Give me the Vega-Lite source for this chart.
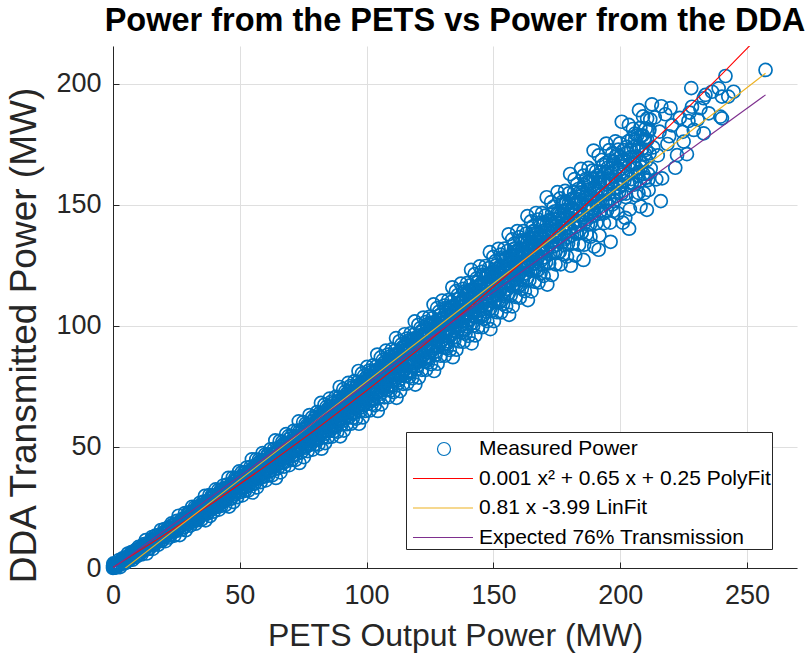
{
  "$schema": "https://vega.github.io/schema/vega-lite/v6.json",
  "width": 684,
  "height": 522,
  "autosize": {"type": "none"},
  "padding": {"left": 113, "top": 46, "right": 10, "bottom": 91},
  "background": "white",
  "title": {
    "text": "Power from the PETS vs Power from the DDA",
    "font": "Liberation Sans",
    "fontSize": 32.5,
    "fontWeight": "bold",
    "color": "#000000",
    "anchor": "middle",
    "offset": 9
  },
  "layer": [
    {
      "data": {
        "values": [
          {"pets":0.0,"dda":0.0},{"pets":0.3,"dda":0.5},{"pets":0.1,"dda":1.2},{"pets":0.6,"dda":0.2},{"pets":0.0,"dda":0.8},{"pets":0.4,"dda":1.6},{"pets":0.8,"dda":0.9},
          {"pets":0.2,"dda":0.3},{"pets":0.5,"dda":0.7},{"pets":0.9,"dda":0.4},{"pets":0.2,"dda":1.9},{"pets":1.2,"dda":1.6},{"pets":0.7,"dda":1.3},{"pets":1.1,"dda":0.5},{"pets":1.5,"dda":1.1},
          {"pets":1.0,"dda":1.0},{"pets":1.4,"dda":0.2},{"pets":1.7,"dda":2.0},{"pets":2.1,"dda":1.3},{"pets":2.4,"dda":3.3},{"pets":2.8,"dda":0.4},{"pets":3.1,"dda":2.8},{"pets":3.5,"dda":1.7},{"pets":3.8,"dda":4.0},{"pets":4.2,"dda":2.9},{"pets":4.5,"dda":4.2},{"pets":4.9,"dda":2.0},{"pets":5.2,"dda":3.9},{"pets":5.6,"dda":3.3},{"pets":5.9,"dda":6.0},{"pets":6.3,"dda":3.2},{"pets":6.6,"dda":5.3},{"pets":7.0,"dda":4.4},{"pets":7.3,"dda":6.6},{"pets":7.7,"dda":3.4},{"pets":8.0,"dda":5.9},{"pets":8.4,"dda":5.7},{"pets":8.7,"dda":7.3},{"pets":9.1,"dda":4.6},{"pets":9.4,"dda":7.1},{"pets":9.8,"dda":5.5},
          {"pets":10.1,"dda":8.7},{"pets":10.5,"dda":6.9},{"pets":10.8,"dda":8.5},{"pets":11.2,"dda":5.6},{"pets":11.5,"dda":8.0},{"pets":11.9,"dda":7.1},{"pets":12.2,"dda":9.9},{"pets":12.6,"dda":7.9},{"pets":12.9,"dda":11.5},{"pets":13.3,"dda":6.0},{"pets":13.6,"dda":9.8},{"pets":14.0,"dda":9.6},{"pets":14.3,"dda":8.0},{"pets":14.7,"dda":11.1},{"pets":15.0,"dda":9.6},{"pets":15.4,"dda":12.8},{"pets":15.7,"dda":7.9},{"pets":16.1,"dda":11.7},{"pets":16.4,"dda":9.8},{"pets":16.8,"dda":13.4},{"pets":17.1,"dda":11.3},{"pets":17.5,"dda":13.4},{"pets":17.8,"dda":9.6},{"pets":18.2,"dda":12.7},{"pets":18.5,"dda":11.5},{"pets":18.9,"dda":15.7},{"pets":19.2,"dda":11.2},{"pets":19.6,"dda":14.4},
          {"pets":20.0,"dda":12.8},{"pets":20.3,"dda":16.1},{"pets":20.7,"dda":11.1},{"pets":21.0,"dda":14.8},{"pets":21.4,"dda":14.4},{"pets":21.7,"dda":16.7},{"pets":22.1,"dda":12.6},{"pets":22.4,"dda":16.3},{"pets":22.8,"dda":13.7},{"pets":23.1,"dda":18.4},{"pets":23.5,"dda":15.5},{"pets":23.8,"dda":17.8},{"pets":24.2,"dda":13.4},{"pets":24.5,"dda":16.9},{"pets":24.9,"dda":15.5},{"pets":25.2,"dda":19.5},{"pets":25.6,"dda":16.4},{"pets":25.9,"dda":21.6},{"pets":26.3,"dda":13.6},{"pets":26.6,"dda":18.9},{"pets":27.0,"dda":18.5},{"pets":27.3,"dda":16.1},{"pets":27.7,"dda":20.5},{"pets":28.0,"dda":18.3},{"pets":28.4,"dda":22.7},{"pets":28.7,"dda":15.6},{"pets":29.1,"dda":20.9},{"pets":29.4,"dda":18.2},{"pets":29.8,"dda":23.0},
          {"pets":30.0,"dda":20.1},{"pets":30.25,"dda":22.8},{"pets":30.5,"dda":17.5},{"pets":30.75,"dda":21.5},{"pets":31.0,"dda":19.7},{"pets":31.25,"dda":25.3},{"pets":31.5,"dda":19.1},{"pets":31.75,"dda":23.2},{"pets":32.0,"dda":20.8},{"pets":32.25,"dda":25.1},{"pets":32.5,"dda":18.3},{"pets":32.75,"dda":23.2},{"pets":33.0,"dda":22.4},{"pets":33.25,"dda":25.3},{"pets":33.5,"dda":19.8},{"pets":33.75,"dda":24.4},{"pets":34.0,"dda":21.0},{"pets":34.25,"dda":26.9},{"pets":34.5,"dda":23.0},{"pets":34.75,"dda":25.8},{"pets":35.0,"dda":20.1},{"pets":35.25,"dda":24.5},{"pets":35.5,"dda":22.5},{"pets":35.75,"dda":27.4},{"pets":36.0,"dda":23.4},{"pets":36.25,"dda":29.8},{"pets":36.5,"dda":19.7},{"pets":36.75,"dda":26.2},{"pets":37.0,"dda":25.5},{"pets":37.25,"dda":22.5},{"pets":37.5,"dda":27.7},{"pets":37.75,"dda":25.0},{"pets":38.0,"dda":30.1},{"pets":38.25,"dda":21.5},{"pets":38.5,"dda":27.7},{"pets":38.75,"dda":24.3},{"pets":39.0,"dda":30.0},{"pets":39.25,"dda":26.5},{"pets":39.5,"dda":29.7},{"pets":39.75,"dda":23.3},
          {"pets":40.0,"dda":28.1},{"pets":40.25,"dda":25.9},{"pets":40.5,"dda":32.5},{"pets":40.75,"dda":25.1},{"pets":41.0,"dda":30.0},{"pets":41.25,"dda":27.2},{"pets":41.5,"dda":32.2},{"pets":41.75,"dda":24.1},{"pets":42.0,"dda":29.8},{"pets":42.25,"dda":28.9},{"pets":42.5,"dda":32.3},{"pets":42.75,"dda":25.7},{"pets":43.0,"dda":31.2},{"pets":43.25,"dda":27.1},{"pets":43.5,"dda":34.1},{"pets":43.75,"dda":29.5},{"pets":44.0,"dda":32.7},{"pets":44.25,"dda":26.0},{"pets":44.5,"dda":31.1},{"pets":44.75,"dda":28.7},{"pets":45.0,"dda":34.5},{"pets":45.25,"dda":29.7},{"pets":45.5,"dda":37.2},{"pets":45.75,"dda":25.4},{"pets":46.0,"dda":33.0},{"pets":46.25,"dda":32.2},{"pets":46.5,"dda":28.6},{"pets":46.75,"dda":34.6},{"pets":47.0,"dda":31.4},{"pets":47.25,"dda":37.4},{"pets":47.5,"dda":27.3},{"pets":47.75,"dda":34.6},{"pets":48.0,"dda":30.6},{"pets":48.25,"dda":37.2},{"pets":48.5,"dda":33.1},{"pets":48.75,"dda":36.8},{"pets":49.0,"dda":29.3},{"pets":49.25,"dda":34.9},{"pets":49.5,"dda":32.3},{"pets":49.75,"dda":39.9},
          {"pets":50.0,"dda":31.3},{"pets":50.25,"dda":37.0},{"pets":50.5,"dda":33.6},{"pets":50.75,"dda":39.5},{"pets":51.0,"dda":30.0},{"pets":51.25,"dda":36.7},{"pets":51.5,"dda":35.5},{"pets":51.75,"dda":39.5},{"pets":52.0,"dda":31.9},{"pets":52.25,"dda":38.2},{"pets":52.5,"dda":33.4},{"pets":52.75,"dda":41.5},{"pets":53.0,"dda":36.1},{"pets":53.25,"dda":39.8},{"pets":53.5,"dda":32.1},{"pets":53.75,"dda":38.0},{"pets":54.0,"dda":35.1},{"pets":54.25,"dda":41.8},{"pets":54.5,"dda":36.3},{"pets":54.75,"dda":44.9},{"pets":55.0,"dda":31.2},{"pets":55.25,"dda":39.9},{"pets":55.5,"dda":39.0},{"pets":55.75,"dda":34.8},{"pets":56.0,"dda":41.7},{"pets":56.25,"dda":38.1},{"pets":56.5,"dda":44.9},{"pets":56.75,"dda":33.3},{"pets":57.0,"dda":41.6},{"pets":57.25,"dda":37.0},{"pets":57.5,"dda":44.6},{"pets":57.75,"dda":39.8},{"pets":58.0,"dda":44.0},{"pets":58.25,"dda":35.5},{"pets":58.5,"dda":41.8},{"pets":58.75,"dda":38.8},{"pets":59.0,"dda":47.5},{"pets":59.25,"dda":37.7},{"pets":59.5,"dda":44.1},{"pets":59.75,"dda":40.3},
          {"pets":60.0,"dda":46.9},{"pets":60.25,"dda":36.2},{"pets":60.5,"dda":43.7},{"pets":60.75,"dda":42.4},{"pets":61.0,"dda":46.8},{"pets":61.25,"dda":38.2},{"pets":61.5,"dda":45.3},{"pets":61.75,"dda":39.9},{"pets":62.0,"dda":49.0},{"pets":62.25,"dda":42.9},{"pets":62.5,"dda":47.1},{"pets":62.75,"dda":38.3},{"pets":63.0,"dda":44.9},{"pets":63.25,"dda":41.7},{"pets":63.5,"dda":49.2},{"pets":63.75,"dda":43.0},{"pets":64.0,"dda":52.7},{"pets":64.25,"dda":37.2},{"pets":64.5,"dda":47.0},{"pets":64.75,"dda":46.0},{"pets":65.0,"dda":41.2},{"pets":65.25,"dda":49.0},{"pets":65.5,"dda":44.9},{"pets":65.75,"dda":52.5},{"pets":66.0,"dda":39.5},{"pets":66.25,"dda":48.8},{"pets":66.5,"dda":43.6},{"pets":66.75,"dda":52.1},{"pets":67.0,"dda":46.7},{"pets":67.25,"dda":51.4},{"pets":67.5,"dda":41.9},{"pets":67.75,"dda":49.0},{"pets":68.0,"dda":45.6},{"pets":68.25,"dda":55.3},{"pets":68.5,"dda":44.2},{"pets":68.75,"dda":51.4},{"pets":69.0,"dda":47.1},{"pets":69.25,"dda":54.5},{"pets":69.5,"dda":42.5},{"pets":69.75,"dda":50.9},
          {"pets":70.0,"dda":49.4},{"pets":70.25,"dda":54.3},{"pets":70.5,"dda":44.7},{"pets":70.75,"dda":52.6},{"pets":71.0,"dda":46.5},{"pets":71.25,"dda":56.7},{"pets":71.5,"dda":49.8},{"pets":71.75,"dda":54.5},{"pets":72.0,"dda":44.7},{"pets":72.25,"dda":52.1},{"pets":72.5,"dda":48.5},{"pets":72.75,"dda":56.8},{"pets":73.0,"dda":49.8},{"pets":73.25,"dda":60.6},{"pets":73.5,"dda":43.4},{"pets":73.75,"dda":54.3},{"pets":74.0,"dda":53.1},{"pets":74.25,"dda":47.8},{"pets":74.5,"dda":56.4},{"pets":74.75,"dda":51.8},{"pets":75.0,"dda":60.3},{"pets":75.25,"dda":45.8},{"pets":75.5,"dda":56.1},{"pets":75.75,"dda":50.4},{"pets":76.0,"dda":59.7},{"pets":76.25,"dda":53.7},{"pets":76.5,"dda":59.0},{"pets":76.75,"dda":48.3},{"pets":77.0,"dda":56.2},{"pets":77.25,"dda":52.4},{"pets":77.5,"dda":63.2},{"pets":77.75,"dda":50.9},{"pets":78.0,"dda":58.8},{"pets":78.25,"dda":54.1},{"pets":78.5,"dda":62.2},{"pets":78.75,"dda":48.9},{"pets":79.0,"dda":58.2},{"pets":79.25,"dda":56.5},{"pets":79.5,"dda":61.9},{"pets":79.75,"dda":51.2},
          {"pets":80.0,"dda":60.0},{"pets":80.2,"dda":53.2},{"pets":80.4,"dda":64.4},{"pets":80.6,"dda":56.7},{"pets":80.8,"dda":61.9},{"pets":81.0,"dda":51.0},{"pets":81.2,"dda":59.0},{"pets":81.4,"dda":55.1},{"pets":81.6,"dda":64.1},{"pets":81.8,"dda":56.4},{"pets":82.0,"dda":68.2},{"pets":82.2,"dda":49.3},{"pets":82.4,"dda":61.2},{"pets":82.6,"dda":59.8},{"pets":82.8,"dda":54.0},{"pets":83.0,"dda":63.4},{"pets":83.2,"dda":58.2},{"pets":83.4,"dda":67.5},{"pets":83.6,"dda":51.6},{"pets":83.8,"dda":62.7},{"pets":84.0,"dda":56.5},{"pets":84.2,"dda":66.6},{"pets":84.4,"dda":60.1},{"pets":84.6,"dda":65.7},{"pets":84.8,"dda":54.1},{"pets":85.0,"dda":62.5},{"pets":85.2,"dda":58.4},{"pets":85.4,"dda":70.0},{"pets":85.6,"dda":56.7},{"pets":85.8,"dda":65.2},{"pets":86.0,"dda":60.0},{"pets":86.2,"dda":68.8},{"pets":86.4,"dda":54.3},{"pets":86.6,"dda":64.3},{"pets":86.8,"dda":62.4},{"pets":87.0,"dda":68.2},{"pets":87.2,"dda":56.6},{"pets":87.4,"dda":66.1},{"pets":87.6,"dda":58.7},{"pets":87.8,"dda":70.7},{"pets":88.0,"dda":62.5},{"pets":88.2,"dda":68.0},{"pets":88.4,"dda":56.3},{"pets":88.6,"dda":64.9},{"pets":88.8,"dda":60.6},{"pets":89.0,"dda":70.4},{"pets":89.2,"dda":62.1},{"pets":89.4,"dda":74.8},{"pets":89.6,"dda":54.4},{"pets":89.8,"dda":67.2},
          {"pets":90.0,"dda":65.7},{"pets":90.2,"dda":59.4},{"pets":90.4,"dda":69.5},{"pets":90.6,"dda":64.0},{"pets":90.8,"dda":73.9},{"pets":91.0,"dda":56.8},{"pets":91.2,"dda":68.8},{"pets":91.4,"dda":62.1},{"pets":91.6,"dda":72.9},{"pets":91.8,"dda":65.9},{"pets":92.0,"dda":71.9},{"pets":92.2,"dda":59.4},{"pets":92.4,"dda":68.5},{"pets":92.6,"dda":64.1},{"pets":92.8,"dda":76.5},{"pets":93.0,"dda":62.2},{"pets":93.2,"dda":71.4},{"pets":93.4,"dda":65.8},{"pets":93.6,"dda":75.2},{"pets":93.8,"dda":59.6},{"pets":94.0,"dda":70.3},{"pets":94.2,"dda":68.3},{"pets":94.4,"dda":74.6},{"pets":94.6,"dda":62.1},{"pets":94.8,"dda":72.2},{"pets":95.0,"dda":64.3},{"pets":95.2,"dda":77.2},{"pets":95.4,"dda":68.4},{"pets":95.6,"dda":74.3},{"pets":95.8,"dda":61.7},{"pets":96.0,"dda":71.0},{"pets":96.2,"dda":66.4},{"pets":96.4,"dda":76.8},{"pets":96.6,"dda":67.9},{"pets":96.8,"dda":81.4},{"pets":97.0,"dda":59.6},{"pets":97.2,"dda":73.3},{"pets":97.4,"dda":71.7},{"pets":97.6,"dda":65.0},{"pets":97.8,"dda":75.7},{"pets":98.0,"dda":69.8},{"pets":98.2,"dda":80.4},{"pets":98.4,"dda":62.2},{"pets":98.6,"dda":75.0},{"pets":98.8,"dda":67.8},{"pets":99.0,"dda":79.4},{"pets":99.2,"dda":71.8},{"pets":99.4,"dda":78.2},{"pets":99.6,"dda":64.9},{"pets":99.8,"dda":74.6},
          {"pets":100.0,"dda":69.8},{"pets":100.2,"dda":83.1},{"pets":100.4,"dda":67.8},{"pets":100.6,"dda":77.6},{"pets":100.8,"dda":71.6},{"pets":101.0,"dda":81.6},{"pets":101.2,"dda":65.1},{"pets":101.4,"dda":76.5},{"pets":101.6,"dda":74.3},{"pets":101.8,"dda":81.0},{"pets":102.0,"dda":67.7},{"pets":102.2,"dda":78.4},{"pets":102.4,"dda":70.0},{"pets":102.6,"dda":83.7},{"pets":102.8,"dda":74.3},{"pets":103.0,"dda":80.6},{"pets":103.2,"dda":67.2},{"pets":103.4,"dda":77.1},{"pets":103.6,"dda":72.1},{"pets":103.8,"dda":83.3},{"pets":104.0,"dda":73.8},{"pets":104.2,"dda":88.2},{"pets":104.4,"dda":64.9},{"pets":104.6,"dda":79.5},{"pets":104.8,"dda":77.8},{"pets":105.0,"dda":70.6},{"pets":105.2,"dda":82.1},{"pets":105.4,"dda":75.8},{"pets":105.6,"dda":87.0},{"pets":105.8,"dda":67.6},{"pets":106.0,"dda":81.2},{"pets":106.2,"dda":73.5},{"pets":106.4,"dda":85.9},{"pets":106.6,"dda":77.8},{"pets":106.8,"dda":84.7},{"pets":107.0,"dda":70.5},{"pets":107.2,"dda":80.8},{"pets":107.4,"dda":75.7},{"pets":107.6,"dda":89.8},{"pets":107.8,"dda":73.5},{"pets":108.0,"dda":83.9},{"pets":108.2,"dda":77.6},{"pets":108.4,"dda":88.2},{"pets":108.6,"dda":70.6},{"pets":108.8,"dda":82.7},{"pets":109.0,"dda":80.3},{"pets":109.2,"dda":87.4},{"pets":109.4,"dda":73.3},{"pets":109.6,"dda":84.7},{"pets":109.8,"dda":75.8},
          {"pets":110.0,"dda":90.3},{"pets":110.2,"dda":80.3},{"pets":110.4,"dda":87.0},{"pets":110.6,"dda":72.7},{"pets":110.8,"dda":83.2},{"pets":111.0,"dda":78.0},{"pets":111.2,"dda":89.8},{"pets":111.4,"dda":79.7},{"pets":111.6,"dda":95.0},{"pets":111.8,"dda":70.3},{"pets":112.0,"dda":85.7},{"pets":112.2,"dda":83.9},{"pets":112.4,"dda":76.3},{"pets":112.6,"dda":88.5},{"pets":112.8,"dda":81.8},{"pets":113.0,"dda":93.7},{"pets":113.2,"dda":73.1},{"pets":113.4,"dda":87.5},{"pets":113.6,"dda":79.4},{"pets":113.8,"dda":92.4},{"pets":114.0,"dda":83.9},{"pets":114.2,"dda":91.2},{"pets":114.4,"dda":76.1},{"pets":114.6,"dda":87.0},{"pets":114.8,"dda":81.6},{"pets":115.0,"dda":96.6},{"pets":115.2,"dda":79.3},{"pets":115.4,"dda":90.3},{"pets":115.6,"dda":83.6},{"pets":115.8,"dda":94.8},{"pets":116.0,"dda":76.2},{"pets":116.2,"dda":89.0},{"pets":116.4,"dda":86.5},{"pets":116.6,"dda":94.0},{"pets":116.8,"dda":79.0},{"pets":117.0,"dda":91.1},{"pets":117.2,"dda":81.6},{"pets":117.4,"dda":97.0},{"pets":117.6,"dda":86.4},{"pets":117.8,"dda":93.5},{"pets":118.0,"dda":78.4},{"pets":118.2,"dda":89.5},{"pets":118.4,"dda":83.9},{"pets":118.6,"dda":96.4},{"pets":118.8,"dda":85.7},{"pets":119.0,"dda":101.9},{"pets":119.2,"dda":75.8},{"pets":119.4,"dda":92.1},{"pets":119.6,"dda":90.2},{"pets":119.8,"dda":82.1},
          {"pets":120.0,"dda":94.9},{"pets":120.2,"dda":87.9},{"pets":120.4,"dda":100.5},{"pets":120.6,"dda":78.7},{"pets":120.8,"dda":93.9},{"pets":121.0,"dda":85.3},{"pets":121.2,"dda":99.1},{"pets":121.4,"dda":90.1},{"pets":121.6,"dda":97.8},{"pets":121.8,"dda":81.9},{"pets":122.0,"dda":93.4},{"pets":122.2,"dda":87.7},{"pets":122.4,"dda":103.5},{"pets":122.6,"dda":85.3},{"pets":122.8,"dda":96.8},{"pets":123.0,"dda":89.7},{"pets":123.2,"dda":101.6},{"pets":123.4,"dda":81.9},{"pets":123.6,"dda":95.4},{"pets":123.8,"dda":92.8},{"pets":124.0,"dda":100.7},{"pets":124.2,"dda":84.9},{"pets":124.4,"dda":97.6},{"pets":124.6,"dda":87.6},{"pets":124.8,"dda":103.8},{"pets":125.0,"dda":92.7},{"pets":125.2,"dda":100.1},{"pets":125.4,"dda":84.2},{"pets":125.6,"dda":95.9},{"pets":125.8,"dda":90.0},{"pets":126.0,"dda":103.2},{"pets":126.2,"dda":91.9},{"pets":126.4,"dda":108.9},{"pets":126.6,"dda":81.4},{"pets":126.8,"dda":98.6},{"pets":127.0,"dda":96.6},{"pets":127.2,"dda":88.1},{"pets":127.4,"dda":101.6},{"pets":127.6,"dda":94.1},{"pets":127.8,"dda":107.4},{"pets":128.0,"dda":84.4},{"pets":128.2,"dda":100.5},{"pets":128.4,"dda":91.4},{"pets":128.6,"dda":105.9},{"pets":128.8,"dda":96.4},{"pets":129.0,"dda":104.5},{"pets":129.2,"dda":87.7},{"pets":129.4,"dda":99.8},{"pets":129.6,"dda":93.8},{"pets":129.8,"dda":110.5},
          {"pets":130.0,"dda":91.2},{"pets":130.2,"dda":103.4},{"pets":130.4,"dda":95.9},{"pets":130.6,"dda":108.4},{"pets":130.8,"dda":87.7},{"pets":131.0,"dda":101.9},{"pets":131.2,"dda":99.1},{"pets":131.4,"dda":107.5},{"pets":131.6,"dda":90.8},{"pets":131.8,"dda":104.2},{"pets":132.0,"dda":93.7},{"pets":132.2,"dda":110.7},{"pets":132.4,"dda":99.0},{"pets":132.6,"dda":106.8},{"pets":132.8,"dda":90.1},{"pets":133.0,"dda":102.3},{"pets":133.2,"dda":96.2},{"pets":133.4,"dda":110.0},{"pets":133.6,"dda":98.1},{"pets":133.8,"dda":116.0},{"pets":134.0,"dda":87.1},{"pets":134.2,"dda":105.1},{"pets":134.4,"dda":103.0},{"pets":134.6,"dda":94.1},{"pets":134.8,"dda":108.3},{"pets":135.0,"dda":100.4},{"pets":135.2,"dda":114.4},{"pets":135.4,"dda":90.2},{"pets":135.6,"dda":107.1},{"pets":135.8,"dda":97.5},{"pets":136.0,"dda":112.8},{"pets":136.2,"dda":102.8},{"pets":136.4,"dda":111.2},{"pets":136.6,"dda":93.6},{"pets":136.8,"dda":106.4},{"pets":137.0,"dda":100.0},{"pets":137.2,"dda":117.5},{"pets":137.4,"dda":97.3},{"pets":137.6,"dda":110.1},{"pets":137.8,"dda":102.2},{"pets":138.0,"dda":115.3},{"pets":138.2,"dda":93.5},{"pets":138.4,"dda":108.5},{"pets":138.6,"dda":105.6},{"pets":138.8,"dda":114.3},{"pets":139.0,"dda":96.8},{"pets":139.2,"dda":110.9},{"pets":139.4,"dda":99.8},{"pets":139.6,"dda":117.7},{"pets":139.8,"dda":105.3},
          {"pets":140.0,"dda":113.6},{"pets":140.2,"dda":95.9},{"pets":140.4,"dda":108.8},{"pets":140.6,"dda":102.4},{"pets":140.8,"dda":116.8},{"pets":141.0,"dda":104.4},{"pets":141.2,"dda":123.2},{"pets":141.4,"dda":92.8},{"pets":141.6,"dda":111.8},{"pets":141.8,"dda":109.5},{"pets":142.0,"dda":100.1},{"pets":142.2,"dda":115.0},{"pets":142.4,"dda":106.8},{"pets":142.6,"dda":121.4},{"pets":142.8,"dda":96.1},{"pets":143.0,"dda":113.8},{"pets":143.2,"dda":103.7},{"pets":143.4,"dda":119.7},{"pets":143.6,"dda":109.3},{"pets":143.8,"dda":118.1},{"pets":144.0,"dda":99.6},{"pets":144.2,"dda":113.0},{"pets":144.4,"dda":106.3},{"pets":144.6,"dda":124.6},{"pets":144.8,"dda":103.5},{"pets":145.0,"dda":116.9},{"pets":145.2,"dda":108.6},{"pets":145.4,"dda":122.4},{"pets":145.6,"dda":99.5},{"pets":145.8,"dda":115.1},{"pets":146.0,"dda":112.1},{"pets":146.2,"dda":121.2},{"pets":146.4,"dda":102.9},{"pets":146.6,"dda":117.6},{"pets":146.8,"dda":106.0},{"pets":147.0,"dda":124.8},{"pets":147.2,"dda":111.8},{"pets":147.4,"dda":120.4},{"pets":147.6,"dda":102.0},{"pets":147.8,"dda":115.5},{"pets":148.0,"dda":108.7},{"pets":148.2,"dda":123.9},{"pets":148.4,"dda":110.8},{"pets":148.6,"dda":130.5},{"pets":148.8,"dda":98.7},{"pets":149.0,"dda":118.5},{"pets":149.2,"dda":116.1},{"pets":149.4,"dda":106.3},{"pets":149.6,"dda":121.9},{"pets":149.8,"dda":113.2},
          {"pets":150.0,"dda":128.6},{"pets":150.2,"dda":102.0},{"pets":150.4,"dda":120.5},{"pets":150.6,"dda":110.0},{"pets":150.8,"dda":126.8},{"pets":151.0,"dda":115.8},{"pets":151.2,"dda":125.1},{"pets":151.4,"dda":105.7},{"pets":151.6,"dda":119.7},{"pets":151.8,"dda":112.7},{"pets":152.0,"dda":131.9},{"pets":152.2,"dda":109.7},{"pets":152.4,"dda":123.8},{"pets":152.6,"dda":115.1},{"pets":152.8,"dda":129.5},{"pets":153.0,"dda":105.6},{"pets":153.2,"dda":121.9},{"pets":153.4,"dda":118.7},{"pets":153.6,"dda":128.3},{"pets":153.8,"dda":109.1},{"pets":154.0,"dda":124.5},{"pets":154.2,"dda":112.4},{"pets":154.4,"dda":132.0},{"pets":154.6,"dda":118.4},{"pets":154.8,"dda":127.4},{"pets":155.0,"dda":108.1},{"pets":155.2,"dda":122.2},{"pets":155.4,"dda":115.1},{"pets":155.6,"dda":131.0},{"pets":155.8,"dda":117.3},{"pets":156.0,"dda":137.9},{"pets":156.2,"dda":104.6},{"pets":156.4,"dda":125.4},{"pets":156.6,"dda":122.9},{"pets":156.8,"dda":112.6},{"pets":157.0,"dda":128.9},{"pets":157.2,"dda":119.8},{"pets":157.4,"dda":135.8},{"pets":157.6,"dda":108.1},{"pets":157.8,"dda":127.4},{"pets":158.0,"dda":116.5},{"pets":158.2,"dda":134.0},{"pets":158.4,"dda":122.5},{"pets":158.6,"dda":132.1},{"pets":158.8,"dda":112.0},{"pets":159.0,"dda":126.5},{"pets":159.2,"dda":119.3},{"pets":159.4,"dda":139.2},{"pets":159.6,"dda":116.1},{"pets":159.8,"dda":130.7},
          {"pets":160.0,"dda":121.7},{"pets":160.2,"dda":136.7},{"pets":160.4,"dda":111.7},{"pets":160.6,"dda":128.8},{"pets":160.8,"dda":125.5},{"pets":161.0,"dda":135.4},{"pets":161.2,"dda":115.4},{"pets":161.4,"dda":131.5},{"pets":161.6,"dda":118.8},{"pets":161.8,"dda":139.2},{"pets":162.0,"dda":125.1},{"pets":162.2,"dda":134.5},{"pets":162.4,"dda":114.4},{"pets":162.6,"dda":129.1},{"pets":162.8,"dda":121.7},{"pets":163.0,"dda":138.2},{"pets":163.2,"dda":124.0},{"pets":163.4,"dda":145.4},{"pets":163.6,"dda":110.7},{"pets":163.8,"dda":132.3},{"pets":164.0,"dda":129.7},{"pets":164.2,"dda":119.0},{"pets":164.4,"dda":136.0},{"pets":164.6,"dda":126.5},{"pets":164.8,"dda":143.2},{"pets":165.0,"dda":114.3},{"pets":165.2,"dda":134.5},{"pets":165.4,"dda":123.0},{"pets":165.6,"dda":141.2},{"pets":165.8,"dda":129.3},{"pets":166.0,"dda":139.3},{"pets":166.2,"dda":118.3},{"pets":166.4,"dda":133.5},{"pets":166.6,"dda":125.9},{"pets":166.8,"dda":146.7},{"pets":167.0,"dda":122.6},{"pets":167.2,"dda":137.9},{"pets":167.4,"dda":128.4},{"pets":167.6,"dda":144.0},{"pets":167.8,"dda":118.0},{"pets":168.0,"dda":135.8},{"pets":168.2,"dda":132.3},{"pets":168.4,"dda":142.7},{"pets":168.6,"dda":121.9},{"pets":168.8,"dda":138.6},{"pets":169.0,"dda":125.4},{"pets":169.2,"dda":146.6},{"pets":169.4,"dda":131.9},{"pets":169.6,"dda":141.7},{"pets":169.8,"dda":120.7},
          {"pets":170.0,"dda":136.0},{"pets":170.25,"dda":128.4},{"pets":170.5,"dda":145.6},{"pets":170.75,"dda":130.8},{"pets":171.0,"dda":153.2},{"pets":171.25,"dda":117.1},{"pets":171.5,"dda":139.6},{"pets":171.75,"dda":137.0},{"pets":172.0,"dda":125.9},{"pets":172.25,"dda":143.6},{"pets":172.5,"dda":133.8},{"pets":172.75,"dda":151.2},{"pets":173.0,"dda":121.1},{"pets":173.25,"dda":142.2},{"pets":173.5,"dda":130.3},{"pets":173.75,"dda":149.3},{"pets":174.0,"dda":136.9},{"pets":174.25,"dda":147.4},{"pets":174.5,"dda":125.5},{"pets":174.75,"dda":141.4},{"pets":175.0,"dda":133.5},{"pets":175.25,"dda":155.3},{"pets":175.5,"dda":130.2},{"pets":175.75,"dda":146.2},{"pets":176.0,"dda":136.3},{"pets":176.25,"dda":152.7},{"pets":176.5,"dda":125.5},{"pets":176.75,"dda":144.2},{"pets":177.0,"dda":140.6},{"pets":177.25,"dda":151.4},{"pets":177.5,"dda":129.7},{"pets":177.75,"dda":147.2},{"pets":178.0,"dda":133.4},{"pets":178.25,"dda":155.8},{"pets":178.5,"dda":140.4},{"pets":178.75,"dda":150.7},{"pets":179.0,"dda":128.7},{"pets":179.25,"dda":144.8},{"pets":179.5,"dda":136.7},{"pets":179.75,"dda":154.8},
          {"pets":180.0,"dda":139.3},{"pets":180.25,"dda":162.8},{"pets":180.5,"dda":124.9},{"pets":180.75,"dda":148.5},{"pets":181.0,"dda":145.8},{"pets":181.25,"dda":134.1},{"pets":181.5,"dda":152.7},{"pets":181.75,"dda":142.4},{"pets":182.0,"dda":160.7},{"pets":182.25,"dda":129.1},{"pets":182.5,"dda":151.1},{"pets":182.75,"dda":138.6},{"pets":183.0,"dda":158.6},{"pets":183.25,"dda":145.6},{"pets":183.5,"dda":156.6},{"pets":183.75,"dda":133.6},{"pets":184.0,"dda":150.3},{"pets":184.25,"dda":142.0},{"pets":184.5,"dda":164.9},{"pets":184.75,"dda":138.5},{"pets":185.0,"dda":155.2},{"pets":185.25,"dda":144.9},{"pets":185.5,"dda":162.1},{"pets":185.75,"dda":133.6},{"pets":186.0,"dda":153.1},{"pets":186.25,"dda":149.4},{"pets":186.5,"dda":160.8},{"pets":186.75,"dda":137.9},{"pets":187.0,"dda":156.3},{"pets":187.25,"dda":141.9},{"pets":187.5,"dda":165.3},{"pets":187.75,"dda":149.1},{"pets":188.0,"dda":159.9},{"pets":188.25,"dda":136.9},{"pets":188.5,"dda":153.7},{"pets":188.75,"dda":145.3},{"pets":189.0,"dda":164.2},{"pets":189.25,"dda":148.0},{"pets":189.5,"dda":172.5},{"pets":189.75,"dda":132.8},
          {"pets":190.0,"dda":157.6},{"pets":190.3,"dda":154.7},{"pets":190.6,"dda":142.5},{"pets":190.9,"dda":162.0},{"pets":191.2,"dda":151.3},{"pets":191.5,"dda":170.5},{"pets":191.8,"dda":137.4},{"pets":192.1,"dda":160.6},{"pets":192.4,"dda":147.6},{"pets":192.7,"dda":168.6},{"pets":193.0,"dda":154.9},{"pets":193.3,"dda":166.6},{"pets":193.6,"dda":142.5},{"pets":193.9,"dda":160.0},{"pets":194.2,"dda":151.4},{"pets":194.5,"dda":175.4},{"pets":194.8,"dda":147.7},{"pets":195.1,"dda":165.4},{"pets":195.4,"dda":154.6},{"pets":195.7,"dda":172.7},{"pets":196.0,"dda":142.7},{"pets":196.3,"dda":163.3},{"pets":196.6,"dda":159.4},{"pets":196.9,"dda":171.4},{"pets":197.2,"dda":147.5},{"pets":197.5,"dda":166.8},{"pets":197.8,"dda":151.7},{"pets":198.1,"dda":176.3},{"pets":198.4,"dda":159.4},{"pets":198.7,"dda":170.8},{"pets":199.0,"dda":146.6},{"pets":199.3,"dda":164.4},{"pets":199.6,"dda":155.5},{"pets":199.9,"dda":175.5},
          {"pets":200.2,"dda":158.4},{"pets":200.6,"dda":184.4},{"pets":201.0,"dda":142.7},{"pets":201.4,"dda":169.0},{"pets":201.8,"dda":166.1},{"pets":202.2,"dda":153.3},{"pets":202.6,"dda":174.0},{"pets":203.0,"dda":162.7},{"pets":203.4,"dda":183.1},{"pets":203.8,"dda":148.2},{"pets":204.2,"dda":172.8},{"pets":204.6,"dda":159.1},{"pets":205.0,"dda":181.4},{"pets":205.4,"dda":167.1},{"pets":205.8,"dda":179.5},{"pets":206.2,"dda":154.0},{"pets":206.6,"dda":172.6},{"pets":207.0,"dda":163.6},{"pets":207.4,"dda":189.2},{"pets":207.8,"dda":159.9},{"pets":208.2,"dda":178.7},{"pets":208.6,"dda":167.4},{"pets":209.0,"dda":186.6},{"pets":209.4,"dda":154.9},{"pets":209.8,"dda":176.9},{"pets":210.2,"dda":172.8},{"pets":210.6,"dda":185.7},{"pets":211.0,"dda":160.3},{"pets":211.5,"dda":181.1},{"pets":212.0,"dda":165.1},{"pets":212.5,"dda":191.6},{"pets":213.0,"dda":173.8},{"pets":213.6,"dda":186.2},{"pets":214.2,"dda":160.6},
          {"pets":202.0,"dda":144.7},{"pets":208.0,"dda":149.4},{"pets":211.2,"dda":156.2},{"pets":216.5,"dda":161.0},{"pets":222.4,"dda":170.6},{"pets":225.0,"dda":176.2},{"pets":229.0,"dda":181.0},{"pets":228.3,"dda":190.6},{"pets":231.6,"dda":190.0},{"pets":232.9,"dda":179.6},{"pets":234.9,"dda":187.9},{"pets":240.1,"dda":185.8},{"pets":233.6,"dda":195.5},{"pets":232.9,"dda":194.1},{"pets":236.2,"dda":196.8},{"pets":240.1,"dda":194.8},{"pets":242.6,"dda":194.8},{"pets":244.7,"dda":196.8},{"pets":238.8,"dda":198.2},{"pets":241.5,"dda":203.3},{"pets":228.0,"dda":198.3},{"pets":257.3,"dda":205.8},{"pets":219.8,"dda":190.0},{"pets":239.5,"dda":186.5},
          {"pets":215.5,"dda":180.3},{"pets":217.8,"dda":187.5},{"pets":218.6,"dda":175.2},{"pets":220.4,"dda":182.9},{"pets":221.7,"dda":165.4},{"pets":223.5,"dda":186.0},{"pets":224.6,"dda":180.2},{"pets":226.3,"dda":171.0},{"pets":226.9,"dda":184.7},{"pets":214.8,"dda":170.5},{"pets":216.2,"dda":190.8},{"pets":219.3,"dda":178.4},{"pets":227.4,"dda":188.2},{"pets":230.5,"dda":185.3},
          {"pets":191.5,"dda":131.5},{"pets":196.2,"dda":134.8},{"pets":185.5,"dda":127.3},{"pets":203.5,"dda":140.2},{"pets":210.5,"dda":148.0},{"pets":216.0,"dda":151.6},{"pets":207.2,"dda":155.0},{"pets":209.9,"dda":161.2},
          {"pets":2.25,"dda":1.9},{"pets":2.75,"dda":1.4},{"pets":3.25,"dda":3.2},{"pets":3.75,"dda":2.6},{"pets":4.25,"dda":3.5},{"pets":4.75,"dda":2.4},{"pets":5.25,"dda":4.5},{"pets":5.75,"dda":3.6},{"pets":6.25,"dda":4.4},{"pets":6.75,"dda":5.6},{"pets":7.25,"dda":4.1},{"pets":7.75,"dda":5.7},{"pets":8.25,"dda":5.3},{"pets":8.75,"dda":7.2},{"pets":9.25,"dda":5.6},{"pets":9.75,"dda":6.8},
          {"pets":10.25,"dda":7.8},{"pets":10.75,"dda":6.1},{"pets":11.25,"dda":8.2},{"pets":11.75,"dda":7.7},{"pets":12.25,"dda":9.4},{"pets":12.75,"dda":8.0},{"pets":13.25,"dda":9.4},{"pets":13.75,"dda":7.8},{"pets":14.25,"dda":10.5},{"pets":14.75,"dda":9.5},{"pets":15.25,"dda":11.8},{"pets":15.75,"dda":9.5},{"pets":16.25,"dda":11.0},{"pets":16.75,"dda":11.7},{"pets":17.25,"dda":10.6},{"pets":17.75,"dda":13.5},{"pets":18.25,"dda":12.2},{"pets":18.75,"dda":13.5},{"pets":19.25,"dda":11.3},{"pets":19.75,"dda":14.6},
          {"pets":20.25,"dda":13.0},{"pets":20.75,"dda":14.1},{"pets":21.25,"dda":15.9},{"pets":21.75,"dda":13.3},{"pets":22.25,"dda":15.7},{"pets":22.75,"dda":14.9},{"pets":23.25,"dda":17.6},{"pets":23.75,"dda":15.0},{"pets":24.25,"dda":16.7},{"pets":24.75,"dda":18.0},{"pets":25.25,"dda":15.4},{"pets":25.75,"dda":18.3},{"pets":26.25,"dda":17.5},{"pets":26.75,"dda":19.8},{"pets":27.25,"dda":17.5},{"pets":27.75,"dda":19.5},{"pets":28.25,"dda":17.0},{"pets":28.75,"dda":20.8},{"pets":29.25,"dda":19.2},{"pets":29.75,"dda":22.3},
          {"pets":30.15,"dda":18.9},{"pets":30.45,"dda":20.7},{"pets":30.75,"dda":21.4},{"pets":31.05,"dda":19.6},{"pets":31.35,"dda":23.4},{"pets":31.65,"dda":21.3},{"pets":31.95,"dda":23.0},{"pets":32.25,"dda":19.7},{"pets":32.55,"dda":23.9},{"pets":32.85,"dda":21.5},{"pets":33.15,"dda":22.7},{"pets":33.45,"dda":24.8},{"pets":33.75,"dda":21.2},{"pets":34.05,"dda":24.1},{"pets":34.35,"dda":22.8},{"pets":34.65,"dda":26.1},{"pets":34.95,"dda":22.5},{"pets":35.25,"dda":24.4},{"pets":35.55,"dda":25.8},{"pets":35.85,"dda":22.3},{"pets":36.15,"dda":25.8},{"pets":36.45,"dda":24.5},{"pets":36.75,"dda":27.1},{"pets":37.05,"dda":24.1},{"pets":37.35,"dda":26.3},{"pets":37.65,"dda":23.1},{"pets":37.95,"dda":27.5},{"pets":38.25,"dda":25.3},{"pets":38.55,"dda":28.9},{"pets":38.85,"dda":24.7},{"pets":39.15,"dda":26.8},{"pets":39.45,"dda":27.6},{"pets":39.75,"dda":25.5},
          {"pets":40.05,"dda":29.9},{"pets":40.35,"dda":27.4},{"pets":40.65,"dda":29.3},{"pets":40.95,"dda":25.4},{"pets":41.25,"dda":30.3},{"pets":41.55,"dda":27.4},{"pets":41.85,"dda":28.8},{"pets":42.15,"dda":31.3},{"pets":42.45,"dda":27.0},{"pets":42.75,"dda":30.3},{"pets":43.05,"dda":28.8},{"pets":43.35,"dda":32.7},{"pets":43.65,"dda":28.5},{"pets":43.95,"dda":30.6},{"pets":44.25,"dda":32.3},{"pets":44.55,"dda":28.1},{"pets":44.85,"dda":32.1},{"pets":45.15,"dda":30.6},{"pets":45.45,"dda":33.6},{"pets":45.75,"dda":30.1},{"pets":46.05,"dda":32.6},{"pets":46.35,"dda":28.9},{"pets":46.65,"dda":33.9},{"pets":46.95,"dda":31.4},{"pets":47.25,"dda":35.5},{"pets":47.55,"dda":30.6},{"pets":47.85,"dda":33.1},{"pets":48.15,"dda":34.0},{"pets":48.45,"dda":31.4},{"pets":48.75,"dda":36.5},{"pets":49.05,"dda":33.6},{"pets":49.35,"dda":35.7},{"pets":49.65,"dda":31.3},{"pets":49.95,"dda":36.9},
          {"pets":50.25,"dda":33.5},{"pets":50.55,"dda":35.1},{"pets":50.85,"dda":37.9},{"pets":51.15,"dda":33.0},{"pets":51.45,"dda":36.8},{"pets":51.75,"dda":35.0},{"pets":52.05,"dda":39.4},{"pets":52.35,"dda":34.5},{"pets":52.65,"dda":37.0},{"pets":52.95,"dda":38.9},{"pets":53.25,"dda":34.1},{"pets":53.55,"dda":38.6},{"pets":53.85,"dda":36.9},{"pets":54.15,"dda":40.3},{"pets":54.45,"dda":36.3},{"pets":54.75,"dda":39.1},{"pets":55.05,"dda":34.8},{"pets":55.35,"dda":40.5},{"pets":55.65,"dda":37.7},{"pets":55.95,"dda":42.3},{"pets":56.25,"dda":36.7},{"pets":56.55,"dda":39.5},{"pets":56.85,"dda":40.5},{"pets":57.15,"dda":37.6},{"pets":57.45,"dda":43.3},{"pets":57.75,"dda":40.0},{"pets":58.05,"dda":42.4},{"pets":58.35,"dda":37.3},{"pets":58.65,"dda":43.6},{"pets":58.95,"dda":39.8},{"pets":59.25,"dda":41.6},{"pets":59.55,"dda":44.7},{"pets":59.85,"dda":39.1},
          {"pets":60.15,"dda":43.4},{"pets":60.45,"dda":41.4},{"pets":60.75,"dda":46.3},{"pets":61.05,"dda":40.8},{"pets":61.35,"dda":43.5},{"pets":61.65,"dda":45.6},{"pets":61.95,"dda":40.2},{"pets":62.25,"dda":45.3},{"pets":62.55,"dda":43.3},{"pets":62.85,"dda":47.1},{"pets":63.15,"dda":42.6},{"pets":63.45,"dda":45.7},{"pets":63.75,"dda":40.9},{"pets":64.05,"dda":47.3},{"pets":64.35,"dda":44.1},{"pets":64.65,"dda":49.2},{"pets":64.95,"dda":43.0},{"pets":65.25,"dda":46.0},{"pets":65.55,"dda":47.1},{"pets":65.85,"dda":43.9},{"pets":66.15,"dda":50.3},{"pets":66.45,"dda":46.5},{"pets":66.75,"dda":49.2},{"pets":67.05,"dda":43.4},{"pets":67.35,"dda":50.5},{"pets":67.65,"dda":46.2},{"pets":67.95,"dda":48.2},{"pets":68.25,"dda":51.6},{"pets":68.55,"dda":45.4},{"pets":68.85,"dda":50.1},{"pets":69.15,"dda":47.9},{"pets":69.45,"dda":53.3},{"pets":69.75,"dda":47.2},
          {"pets":70.05,"dda":50.2},{"pets":70.35,"dda":52.5},{"pets":70.65,"dda":46.4},{"pets":70.95,"dda":52.1},{"pets":71.25,"dda":49.9},{"pets":71.55,"dda":54.1},{"pets":71.85,"dda":49.0},{"pets":72.15,"dda":52.5},{"pets":72.45,"dda":47.1},{"pets":72.75,"dda":54.1},{"pets":73.05,"dda":50.6},{"pets":73.35,"dda":56.2},{"pets":73.65,"dda":49.3},{"pets":73.95,"dda":52.6},{"pets":74.25,"dda":53.9},{"pets":74.55,"dda":50.2},{"pets":74.85,"dda":57.3},{"pets":75.15,"dda":53.2},{"pets":75.45,"dda":56.0},{"pets":75.75,"dda":49.7},{"pets":76.05,"dda":57.5},{"pets":76.35,"dda":52.7},{"pets":76.65,"dda":54.9},{"pets":76.95,"dda":58.7},{"pets":77.25,"dda":51.7},{"pets":77.55,"dda":56.9},{"pets":77.85,"dda":54.5},{"pets":78.15,"dda":60.4},{"pets":78.45,"dda":53.6},{"pets":78.75,"dda":56.9},{"pets":79.05,"dda":59.4},{"pets":79.35,"dda":52.7},{"pets":79.65,"dda":58.9},{"pets":79.95,"dda":56.5},
          {"pets":80.1,"dda":61.0},{"pets":80.35,"dda":55.4},{"pets":80.6,"dda":59.1},{"pets":80.85,"dda":53.1},{"pets":81.1,"dda":60.8},{"pets":81.35,"dda":56.9},{"pets":81.6,"dda":63.0},{"pets":81.85,"dda":55.4},{"pets":82.1,"dda":59.0},{"pets":82.35,"dda":60.2},{"pets":82.6,"dda":56.2},{"pets":82.85,"dda":63.9},{"pets":83.1,"dda":59.3},{"pets":83.35,"dda":62.4},{"pets":83.6,"dda":55.5},{"pets":83.85,"dda":63.9},{"pets":84.1,"dda":58.6},{"pets":84.35,"dda":60.9},{"pets":84.6,"dda":64.9},{"pets":84.85,"dda":57.4},{"pets":85.1,"dda":63.0},{"pets":85.35,"dda":60.2},{"pets":85.6,"dda":66.6},{"pets":85.85,"dda":59.2},{"pets":86.1,"dda":62.8},{"pets":86.35,"dda":65.4},{"pets":86.6,"dda":58.1},{"pets":86.85,"dda":64.8},{"pets":87.1,"dda":62.1},{"pets":87.35,"dda":67.0},{"pets":87.6,"dda":61.0},{"pets":87.85,"dda":64.9},{"pets":88.1,"dda":58.5},{"pets":88.35,"dda":66.7},{"pets":88.6,"dda":62.5},{"pets":88.85,"dda":69.0},{"pets":89.1,"dda":60.9},{"pets":89.35,"dda":64.7},{"pets":89.6,"dda":66.0},{"pets":89.85,"dda":61.7},
          {"pets":90.1,"dda":69.9},{"pets":90.35,"dda":65.0},{"pets":90.6,"dda":68.3},{"pets":90.85,"dda":60.9},{"pets":91.1,"dda":69.9},{"pets":91.35,"dda":64.3},{"pets":91.6,"dda":66.7},{"pets":91.85,"dda":71.0},{"pets":92.1,"dda":62.9},{"pets":92.35,"dda":68.9},{"pets":92.6,"dda":65.9},{"pets":92.85,"dda":72.7},{"pets":93.1,"dda":64.8},{"pets":93.35,"dda":68.6},{"pets":93.6,"dda":71.4},{"pets":93.85,"dda":63.6},{"pets":94.1,"dda":70.7},{"pets":94.35,"dda":67.8},{"pets":94.6,"dda":73.0},{"pets":94.85,"dda":66.6},{"pets":95.1,"dda":70.8},{"pets":95.35,"dda":64.0},{"pets":95.6,"dda":72.8},{"pets":95.85,"dda":68.2},{"pets":96.1,"dda":75.2},{"pets":96.35,"dda":66.5},{"pets":96.6,"dda":70.6},{"pets":96.85,"dda":72.0},{"pets":97.1,"dda":67.4},{"pets":97.35,"dda":76.1},{"pets":97.6,"dda":70.9},{"pets":97.85,"dda":74.3},{"pets":98.1,"dda":66.4},{"pets":98.35,"dda":76.0},{"pets":98.6,"dda":70.0},{"pets":98.85,"dda":72.6},{"pets":99.1,"dda":77.2},{"pets":99.35,"dda":68.5},{"pets":99.6,"dda":74.9},{"pets":99.85,"dda":71.7},
          {"pets":100.1,"dda":79.0},{"pets":100.35,"dda":70.5},{"pets":100.6,"dda":74.5},{"pets":100.85,"dda":77.5},{"pets":101.1,"dda":69.2},{"pets":101.35,"dda":76.8},{"pets":101.6,"dda":73.7},{"pets":101.85,"dda":79.2},{"pets":102.1,"dda":72.4},{"pets":102.35,"dda":76.8},{"pets":102.6,"dda":69.5},{"pets":102.85,"dda":78.9},{"pets":103.1,"dda":74.0},{"pets":103.35,"dda":81.5},{"pets":103.6,"dda":72.1},{"pets":103.85,"dda":76.5},{"pets":104.1,"dda":78.0},{"pets":104.35,"dda":73.1},{"pets":104.6,"dda":82.3},{"pets":104.85,"dda":76.7},{"pets":105.1,"dda":80.4},{"pets":105.35,"dda":72.0},{"pets":105.6,"dda":82.2},{"pets":105.85,"dda":75.8},{"pets":106.1,"dda":78.5},{"pets":106.35,"dda":83.4},{"pets":106.6,"dda":74.2},{"pets":106.85,"dda":80.9},{"pets":107.1,"dda":77.6},{"pets":107.35,"dda":85.2},{"pets":107.6,"dda":76.3},{"pets":107.85,"dda":80.5},{"pets":108.1,"dda":83.7},{"pets":108.35,"dda":74.9},{"pets":108.6,"dda":82.8},{"pets":108.85,"dda":79.5},{"pets":109.1,"dda":85.4},{"pets":109.35,"dda":78.1},{"pets":109.6,"dda":82.9},{"pets":109.85,"dda":75.1},
          {"pets":110.1,"dda":85.0},{"pets":110.35,"dda":79.9},{"pets":110.6,"dda":87.7},{"pets":110.85,"dda":77.9},{"pets":111.1,"dda":82.4},{"pets":111.35,"dda":84.0},{"pets":111.6,"dda":78.8},{"pets":111.85,"dda":88.6},{"pets":112.1,"dda":82.7},{"pets":112.35,"dda":86.6},{"pets":112.6,"dda":77.6},{"pets":112.85,"dda":88.4},{"pets":113.1,"dda":81.7},{"pets":113.35,"dda":84.5},{"pets":113.6,"dda":89.7},{"pets":113.85,"dda":79.9},{"pets":114.1,"dda":87.1},{"pets":114.35,"dda":83.5},{"pets":114.6,"dda":91.6},{"pets":114.85,"dda":82.1},{"pets":115.1,"dda":86.6},{"pets":115.35,"dda":89.9},{"pets":115.6,"dda":80.6},{"pets":115.85,"dda":89.0},{"pets":116.1,"dda":85.5},{"pets":116.35,"dda":91.7},{"pets":116.6,"dda":84.0},{"pets":116.85,"dda":89.1},{"pets":117.1,"dda":80.8},{"pets":117.35,"dda":91.3},{"pets":117.6,"dda":85.8},{"pets":117.85,"dda":94.2},{"pets":118.1,"dda":83.7},{"pets":118.35,"dda":88.5},{"pets":118.6,"dda":90.2},{"pets":118.85,"dda":84.7},{"pets":119.1,"dda":95.0},{"pets":119.35,"dda":88.7},{"pets":119.6,"dda":92.9},{"pets":119.85,"dda":83.4},
          {"pets":120.1,"dda":94.8},{"pets":120.35,"dda":87.6},{"pets":120.6,"dda":90.7},{"pets":120.85,"dda":96.1},{"pets":121.1,"dda":85.8},{"pets":121.35,"dda":93.3},{"pets":121.6,"dda":89.5},{"pets":121.85,"dda":98.1},{"pets":122.1,"dda":88.1},{"pets":122.35,"dda":92.8},{"pets":122.6,"dda":96.3},{"pets":122.85,"dda":86.5},{"pets":123.1,"dda":95.3},{"pets":123.35,"dda":91.6},{"pets":123.6,"dda":98.2},{"pets":123.85,"dda":90.0},{"pets":124.1,"dda":95.3},{"pets":124.35,"dda":86.7},{"pets":124.6,"dda":97.7},{"pets":124.85,"dda":91.9},{"pets":125.1,"dda":100.7},{"pets":125.35,"dda":89.6},{"pets":125.6,"dda":94.7},{"pets":125.85,"dda":96.5},{"pets":126.1,"dda":90.7},{"pets":126.35,"dda":101.5},{"pets":126.6,"dda":94.9},{"pets":126.85,"dda":99.3},{"pets":127.1,"dda":89.3},{"pets":127.35,"dda":101.3},{"pets":127.6,"dda":93.7},{"pets":127.85,"dda":96.9},{"pets":128.1,"dda":102.6},{"pets":128.35,"dda":91.7},{"pets":128.6,"dda":99.7},{"pets":128.85,"dda":95.7},{"pets":129.1,"dda":104.7},{"pets":129.35,"dda":94.1},{"pets":129.6,"dda":99.1},{"pets":129.85,"dda":102.7},
          {"pets":130.1,"dda":92.4},{"pets":130.35,"dda":101.7},{"pets":130.6,"dda":97.8},{"pets":130.85,"dda":104.7},{"pets":131.1,"dda":96.1},{"pets":131.35,"dda":101.7},{"pets":131.6,"dda":92.6},{"pets":131.85,"dda":104.1},{"pets":132.1,"dda":98.1},{"pets":132.35,"dda":107.3},{"pets":132.6,"dda":95.7},{"pets":132.85,"dda":101.0},{"pets":133.1,"dda":102.8},{"pets":133.35,"dda":96.7},{"pets":133.6,"dda":108.1},{"pets":133.85,"dda":101.2},{"pets":134.1,"dda":105.7},{"pets":134.35,"dda":95.2},{"pets":134.6,"dda":107.8},{"pets":134.85,"dda":99.9},{"pets":135.1,"dda":103.2},{"pets":135.35,"dda":109.2},{"pets":135.6,"dda":97.8},{"pets":135.85,"dda":106.1},{"pets":136.1,"dda":101.9},{"pets":136.35,"dda":111.3},{"pets":136.6,"dda":100.2},{"pets":136.85,"dda":105.4},{"pets":137.1,"dda":109.3},{"pets":137.35,"dda":98.4},{"pets":137.6,"dda":108.2},{"pets":137.85,"dda":104.1},{"pets":138.1,"dda":111.3},{"pets":138.35,"dda":102.3},{"pets":138.6,"dda":108.1},{"pets":138.85,"dda":98.5},{"pets":139.1,"dda":110.6},{"pets":139.35,"dda":104.2},{"pets":139.6,"dda":113.9},{"pets":139.85,"dda":101.7},
          {"pets":140.1,"dda":107.3},{"pets":140.35,"dda":109.2},{"pets":140.6,"dda":102.8},{"pets":140.85,"dda":114.8},{"pets":141.1,"dda":107.5},{"pets":141.35,"dda":112.2},{"pets":141.6,"dda":101.2},{"pets":141.85,"dda":114.4},{"pets":142.1,"dda":106.1},{"pets":142.35,"dda":109.6},{"pets":142.6,"dda":115.8},{"pets":142.85,"dda":103.9},{"pets":143.1,"dda":112.6},{"pets":143.35,"dda":108.2},{"pets":143.6,"dda":118.0},{"pets":143.85,"dda":106.4},{"pets":144.1,"dda":111.9},{"pets":144.35,"dda":115.9},{"pets":144.6,"dda":104.5},{"pets":144.85,"dda":114.7},{"pets":145.1,"dda":110.4},{"pets":145.35,"dda":117.9},{"pets":145.6,"dda":108.5},{"pets":145.85,"dda":114.6},{"pets":146.1,"dda":104.6},{"pets":146.35,"dda":117.3},{"pets":146.6,"dda":110.6},{"pets":146.85,"dda":120.7},{"pets":147.1,"dda":107.9},{"pets":147.35,"dda":113.7},{"pets":147.6,"dda":115.7},{"pets":147.85,"dda":109.0},{"pets":148.1,"dda":121.5},{"pets":148.35,"dda":113.9},{"pets":148.6,"dda":118.9},{"pets":148.85,"dda":107.3},{"pets":149.1,"dda":121.1},{"pets":149.35,"dda":112.4},{"pets":149.6,"dda":116.0},{"pets":149.85,"dda":122.6},
          {"pets":150.1,"dda":110.0},{"pets":150.35,"dda":119.1},{"pets":150.6,"dda":114.5},{"pets":150.85,"dda":124.9},{"pets":151.1,"dda":112.7},{"pets":151.35,"dda":118.4},{"pets":151.6,"dda":122.6},{"pets":151.85,"dda":110.7},{"pets":152.1,"dda":121.4},{"pets":152.35,"dda":116.9},{"pets":152.6,"dda":124.7},{"pets":152.85,"dda":114.9},{"pets":153.1,"dda":121.2},{"pets":153.35,"dda":110.7},{"pets":153.6,"dda":124.0},{"pets":153.85,"dda":117.0},{"pets":154.1,"dda":127.5},{"pets":154.35,"dda":114.2},{"pets":154.6,"dda":120.3},{"pets":154.85,"dda":122.4},{"pets":155.1,"dda":115.3},{"pets":155.35,"dda":128.4},{"pets":155.6,"dda":120.4},{"pets":155.85,"dda":125.6},{"pets":156.1,"dda":113.6},{"pets":156.35,"dda":128.0},{"pets":156.6,"dda":118.8},{"pets":156.85,"dda":122.6},{"pets":157.1,"dda":129.4},{"pets":157.35,"dda":116.4},{"pets":157.6,"dda":125.8},{"pets":157.85,"dda":121.0},{"pets":158.1,"dda":131.8},{"pets":158.35,"dda":119.1},{"pets":158.6,"dda":125.0},{"pets":158.85,"dda":129.4},{"pets":159.1,"dda":116.9},{"pets":159.35,"dda":128.1},{"pets":159.6,"dda":123.4},{"pets":159.85,"dda":131.6},
          {"pets":160.1,"dda":121.3},{"pets":160.35,"dda":127.9},{"pets":160.6,"dda":117.0},{"pets":160.85,"dda":130.8},{"pets":161.1,"dda":123.5},{"pets":161.35,"dda":134.5},{"pets":161.6,"dda":120.6},{"pets":161.85,"dda":126.9},{"pets":162.1,"dda":129.1},{"pets":162.35,"dda":121.8},{"pets":162.6,"dda":135.4},{"pets":162.85,"dda":127.0},{"pets":163.1,"dda":132.5},{"pets":163.35,"dda":119.9},{"pets":163.6,"dda":134.9},{"pets":163.85,"dda":125.4},{"pets":164.1,"dda":129.3},{"pets":164.35,"dda":136.4},{"pets":164.6,"dda":122.8},{"pets":164.85,"dda":132.7},{"pets":165.1,"dda":127.7},{"pets":165.35,"dda":138.9},{"pets":165.6,"dda":125.7},{"pets":165.85,"dda":131.8},{"pets":166.1,"dda":136.3},{"pets":166.35,"dda":123.4},{"pets":166.6,"dda":135.0},{"pets":166.85,"dda":130.1},{"pets":167.1,"dda":138.6},{"pets":167.35,"dda":127.9},{"pets":167.6,"dda":134.8},{"pets":167.85,"dda":123.4},{"pets":168.1,"dda":137.7},{"pets":168.35,"dda":130.1},{"pets":168.6,"dda":141.5},{"pets":168.85,"dda":127.1},{"pets":169.1,"dda":133.7},{"pets":169.35,"dda":135.9},{"pets":169.6,"dda":128.3},{"pets":169.85,"dda":142.4},
          {"pets":170.15,"dda":133.8},{"pets":170.45,"dda":139.5},{"pets":170.75,"dda":126.4},{"pets":171.05,"dda":142.1},{"pets":171.35,"dda":132.2},{"pets":171.65,"dda":136.4},{"pets":171.95,"dda":143.8},{"pets":172.25,"dda":129.7},{"pets":172.55,"dda":140.0},{"pets":172.85,"dda":134.8},{"pets":173.15,"dda":146.5},{"pets":173.45,"dda":132.8},{"pets":173.75,"dda":139.2},{"pets":174.05,"dda":144.0},{"pets":174.35,"dda":130.5},{"pets":174.65,"dda":142.7},{"pets":174.95,"dda":137.6},{"pets":175.25,"dda":146.5},{"pets":175.55,"dda":135.4},{"pets":175.85,"dda":142.6},{"pets":176.15,"dda":130.7},{"pets":176.45,"dda":145.8},{"pets":176.75,"dda":137.9},{"pets":177.05,"dda":149.9},{"pets":177.35,"dda":134.8},{"pets":177.65,"dda":141.7},{"pets":177.95,"dda":144.1},{"pets":178.25,"dda":136.1},{"pets":178.55,"dda":151.0},{"pets":178.85,"dda":141.9},{"pets":179.15,"dda":147.9},{"pets":179.45,"dda":134.2},{"pets":179.75,"dda":150.6},
          {"pets":180.05,"dda":140.2},{"pets":180.35,"dda":144.6},{"pets":180.65,"dda":152.3},{"pets":180.95,"dda":137.5},{"pets":181.25,"dda":148.3},{"pets":181.55,"dda":142.9},{"pets":181.85,"dda":155.2},{"pets":182.15,"dda":140.8},{"pets":182.45,"dda":147.5},{"pets":182.75,"dda":152.5},{"pets":183.05,"dda":138.4},{"pets":183.35,"dda":151.1},{"pets":183.65,"dda":145.8},{"pets":183.95,"dda":155.1},{"pets":184.25,"dda":143.5},{"pets":184.55,"dda":151.0},{"pets":184.85,"dda":138.6},{"pets":185.15,"dda":154.3},{"pets":185.45,"dda":146.0},{"pets":185.75,"dda":158.5},{"pets":186.05,"dda":142.8},{"pets":186.35,"dda":150.0},{"pets":186.65,"dda":152.5},{"pets":186.95,"dda":144.2},{"pets":187.25,"dda":159.7},{"pets":187.55,"dda":150.2},{"pets":187.85,"dda":156.4},{"pets":188.15,"dda":142.1},{"pets":188.45,"dda":159.2},{"pets":188.75,"dda":148.4},{"pets":189.05,"dda":153.0},{"pets":189.35,"dda":161.0},{"pets":189.65,"dda":145.6},{"pets":189.95,"dda":156.8},
          {"pets":190.25,"dda":151.1},{"pets":190.55,"dda":163.9},{"pets":190.85,"dda":148.9},{"pets":191.15,"dda":155.9},{"pets":191.45,"dda":161.1},{"pets":191.75,"dda":146.4},{"pets":192.05,"dda":159.6},{"pets":192.35,"dda":154.1},{"pets":192.65,"dda":163.8},{"pets":192.95,"dda":151.7},{"pets":193.25,"dda":159.5},{"pets":193.55,"dda":146.6},{"pets":193.85,"dda":163.0},{"pets":194.15,"dda":154.4},{"pets":194.45,"dda":167.4},{"pets":194.75,"dda":150.9},{"pets":195.05,"dda":158.5},{"pets":195.35,"dda":161.0},{"pets":195.65,"dda":152.4},{"pets":195.95,"dda":168.5},{"pets":196.25,"dda":158.7},{"pets":196.55,"dda":165.1},{"pets":196.85,"dda":150.2},{"pets":197.15,"dda":168.0},{"pets":197.45,"dda":156.8},{"pets":197.75,"dda":161.5},{"pets":198.05,"dda":169.9},{"pets":198.35,"dda":153.8},{"pets":198.65,"dda":165.5},{"pets":198.95,"dda":159.6},{"pets":199.25,"dda":172.9},{"pets":199.55,"dda":157.2},{"pets":199.85,"dda":164.5},
          {"pets":200.15,"dda":169.9},{"pets":200.45,"dda":154.6},{"pets":200.75,"dda":168.4},{"pets":201.05,"dda":162.6},{"pets":201.35,"dda":172.7},{"pets":201.65,"dda":160.0},{"pets":201.95,"dda":168.2},{"pets":202.25,"dda":154.7},{"pets":202.55,"dda":171.7},{"pets":202.85,"dda":162.8},{"pets":203.15,"dda":176.3},{"pets":203.45,"dda":159.2},{"pets":203.75,"dda":167.0},{"pets":204.05,"dda":169.7},{"pets":204.35,"dda":160.7},{"pets":204.65,"dda":177.5},{"pets":204.95,"dda":167.2},{"pets":205.25,"dda":173.9},{"pets":205.55,"dda":158.4},{"pets":205.85,"dda":176.9},{"pets":206.15,"dda":165.2},{"pets":206.45,"dda":170.1},{"pets":206.75,"dda":178.8},{"pets":207.05,"dda":162.0},{"pets":207.35,"dda":174.2},{"pets":207.65,"dda":168.0},{"pets":207.95,"dda":181.9},{"pets":208.25,"dda":165.6},{"pets":208.55,"dda":173.2},{"pets":208.85,"dda":178.8},{"pets":209.15,"dda":162.8},{"pets":209.45,"dda":177.1},{"pets":209.75,"dda":171.1},{"pets":210.05,"dda":181.6},{"pets":210.35,"dda":168.4},{"pets":210.65,"dda":176.9},{"pets":210.95,"dda":162.9},{"pets":211.25,"dda":180.6},{"pets":211.55,"dda":171.3},{"pets":211.85,"dda":185.3}
        ]
      },
      "mark": {"type": "point", "shape": "circle", "filled": false, "size": 169, "strokeWidth": 1.7, "opacity": 1},
      "encoding": {
        "x": {
          "field": "pets",
          "type": "quantitative",
          "title": "PETS Output Power (MW)",
          "scale": {"domain": [0, 269.7], "nice": false, "zero": false},
          "axis": {"values": [0, 50, 100, 150, 200, 250]}
        },
        "y": {
          "field": "dda",
          "type": "quantitative",
          "title": "DDA Transmitted Power (MW)",
          "scale": {"domain": [0, 215.7], "nice": false, "zero": false},
          "axis": {"values": [0, 50, 100, 150, 200], "titleFontSize": 37, "titleY": 289}
        },
        "color": {"datum": "Measured Power", "type": "nominal"}
      }
    },
    {
      "data": {
        "values": [
          {"series": "0.001 x² + 0.65 x + 0.25 PolyFit", "pets": 0, "dda": 0.25},
          {"series": "0.001 x² + 0.65 x + 0.25 PolyFit", "pets": 20, "dda": 13.5},
          {"series": "0.001 x² + 0.65 x + 0.25 PolyFit", "pets": 40, "dda": 27.4},
          {"series": "0.001 x² + 0.65 x + 0.25 PolyFit", "pets": 60, "dda": 42.0},
          {"series": "0.001 x² + 0.65 x + 0.25 PolyFit", "pets": 80, "dda": 57.3},
          {"series": "0.001 x² + 0.65 x + 0.25 PolyFit", "pets": 100, "dda": 73.3},
          {"series": "0.001 x² + 0.65 x + 0.25 PolyFit", "pets": 120, "dda": 89.9},
          {"series": "0.001 x² + 0.65 x + 0.25 PolyFit", "pets": 140, "dda": 107.2},
          {"series": "0.001 x² + 0.65 x + 0.25 PolyFit", "pets": 160, "dda": 125.2},
          {"series": "0.001 x² + 0.65 x + 0.25 PolyFit", "pets": 180, "dda": 143.9},
          {"series": "0.001 x² + 0.65 x + 0.25 PolyFit", "pets": 200, "dda": 163.3},
          {"series": "0.001 x² + 0.65 x + 0.25 PolyFit", "pets": 220, "dda": 183.3},
          {"series": "0.001 x² + 0.65 x + 0.25 PolyFit", "pets": 240, "dda": 204.0},
          {"series": "0.001 x² + 0.65 x + 0.25 PolyFit", "pets": 257.3, "dda": 222.5},
          {"series": "0.81 x -3.99 LinFit", "pets": 0, "dda": -3.99},
          {"series": "0.81 x -3.99 LinFit", "pets": 257.3, "dda": 204.42},
          {"series": "Expected 76% Transmission", "pets": 0, "dda": 0},
          {"series": "Expected 76% Transmission", "pets": 257.3, "dda": 195.5}
        ]
      },
      "mark": {"type": "line", "clip": true, "strokeWidth": 1.1},
      "encoding": {
        "x": {"field": "pets", "type": "quantitative"},
        "y": {"field": "dda", "type": "quantitative"},
        "color": {
          "field": "series",
          "type": "nominal",
          "scale": {
            "domain": ["Measured Power", "0.001 x² + 0.65 x + 0.25 PolyFit", "0.81 x -3.99 LinFit", "Expected 76% Transmission"],
            "range": ["#0072BD", "#FF0000", "#EDB120", "#7E2F8E"]
          },
          "legend": {
            "title": null,
            "orient": "none",
            "legendX": 293,
            "legendY": 386,
            "padding": 1,
            "fillColor": "white",
            "strokeColor": "#262626",
            "symbolSize": 900,
            "symbolStrokeWidth": 1.2,
            "symbolType": "circle",
            "labelFont": "Liberation Sans",
            "labelFontSize": 21,
            "labelColor": "#000000",
            "labelOffset": 40,
            "labelLimit": 0,
            "rowPadding": 3.5,
            "encode": {
              "symbols": {
                "update": {
                  "shape": {"signal": "datum.value === 'Measured Power' ? 'M0.967,0A0.433,0.433,0,1,1,1.833,0A0.433,0.433,0,1,1,0.967,0Z' : 'M-0.667,0L3.333,0'"},
                  "fill": {"value": "transparent"},
                  "opacity": {"value": 1}
                }
              }
            }
          }
        }
      }
    }
  ],
  "config": {
    "view": {"stroke": null},
    "font": "Liberation Sans",
    "axis": {
      "domainColor": "#262626",
      "domainWidth": 1,
      "tickColor": "#262626",
      "tickSize": -6,
      "tickWidth": 1,
      "labelColor": "#262626",
      "labelFont": "Liberation Sans",
      "labelFontSize": 27,
      "labelFlush": false,
      "titleFont": "Liberation Sans",
      "titleFontSize": 32,
      "titleFontWeight": "normal",
      "titleColor": "#262626",
      "gridColor": "#dfdfdf",
      "gridWidth": 1
    },
    "axisX": {"labelPadding": 20, "titlePadding": 12},
    "axisY": {"labelPadding": 18, "titlePadding": 12}
  }
}
